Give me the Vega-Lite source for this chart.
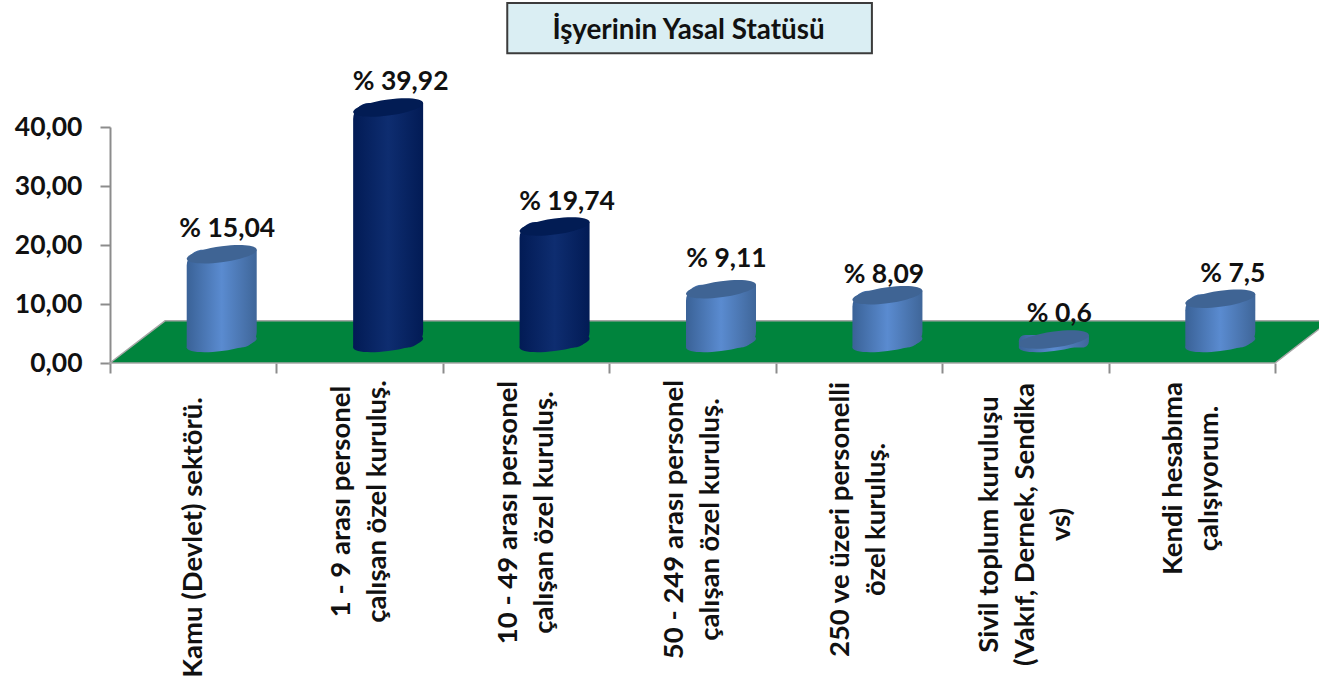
{
"$schema":"https://vega.github.io/schema/vega-lite/v6.json",
"width":1165,"height":236,
"autosize":"none",
"padding":{"left":110,"top":127,"right":44,"bottom":316},
"background":"white",
"view":{"stroke":null},
"title":{"text":"İşyerinin Yasal Statüsü","anchor":"middle","frame":"group","offset":-43,"dx":-4,"font":"Lato","fontSize":27.8,"fontWeight":"bold","color":"#111111"},
"datasets":{
"bars":[
{"kategori":"Kamu (Devlet) sektörü.","deger":15.04,"etiket":"% 15,04","koyu":false},
{"kategori":"1 - 9 arası personel|çalışan özel kuruluş.","deger":39.92,"etiket":"% 39,92","koyu":true},
{"kategori":"10 - 49 arası personel|çalışan özel kuruluş.","deger":19.74,"etiket":"% 19,74","koyu":true},
{"kategori":"50 - 249 arası personel|çalışan özel kuruluş.","deger":9.11,"etiket":"% 9,11","koyu":false},
{"kategori":"250 ve üzeri personelli|özel kuruluş.","deger":8.09,"etiket":"% 8,09","koyu":false},
{"kategori":"Sivil toplum kuruluşu|(Vakıf, Dernek, Sendika|vs)","deger":0.6,"etiket":"% 0,6","koyu":false},
{"kategori":"Kendi hesabıma|çalışıyorum.","deger":7.5,"etiket":"% 7,5","koyu":false}
],
"zemin":[{"yy":0,"a":0,"b":1},{"yy":7.15,"a":0.0472,"b":1.047}],
"kutu":[{"a":0.341,"b":0.654,"ust":61,"alt":52.5}]
},
"resolve":{"scale":{"x":"independent"}},
"layer":[
{"data":{"name":"zemin"},
 "mark":{"type":"area","orient":"horizontal","fill":"#00843d","stroke":"#a6a6a6","strokeWidth":1.5,"clip":false,"opacity":1},
 "encoding":{
  "y":{"field":"yy","type":"quantitative","scale":{"domain":[0,40],"nice":false},"axis":{"values":[0,10,20,30,40],"title":null,"grid":false,"domainColor":"#8c8c8c","domainWidth":2,"tickColor":"#8c8c8c","tickWidth":2,"tickSize":10,"labelPadding":18,"labelFont":"Lato","labelFontWeight":"bold","labelFontSize":26.5,"labelColor":"#111111","labelExpr":"replace(format(datum.value,'.2f'),'.',',')"}},
  "x":{"field":"a","type":"quantitative","scale":{"domain":[0,1],"nice":false,"zero":false},"axis":null},
  "x2":{"field":"b"}
 }},
{"data":{"name":"kutu"},
 "mark":{"type":"rect","fill":"#daeef3","stroke":"#3b3b3b","strokeWidth":2,"clip":false},
 "encoding":{
  "x":{"field":"a","type":"quantitative","scale":{"domain":[0,1],"nice":false,"zero":false},"axis":null},
  "x2":{"field":"b"},
  "y":{"field":"ust","type":"quantitative"},
  "y2":{"field":"alt"}
 }},
{"data":{"name":"bars"},
 "encoding":{
  "x":{"field":"kategori","type":"nominal","sort":null,"scale":{"type":"band","paddingInner":0,"paddingOuter":0},
   "axis":{"title":null,"domain":false,"tickBand":"extent","tickColor":"#8c8c8c","tickWidth":2,"tickSize":10,"labelAngle":-90,"labelAlign":"center","labelBaseline":"middle","labelLimit":500,"labelLineHeight":36,"labelFont":"Lato","labelFontWeight":"bold","labelFontSize":27.5,"labelColor":"#111111",
    "labelExpr":"split(datum.label,'|')",
    "labelOffset":{"expr":"-18*(length(split(datum.label,'|'))-1)"},
    "labelPadding":{"expr":"({'Ka':164,'1 ':128,'10':139,'50':146,'25':146,'Si':151,'Ke':105})[substring(datum.label,0,2)]||0"}}}
 },
 "layer":[
  {"mark":{"type":"point","filled":true,"opacity":1,"xOffset":28.5,"yOffset":-20,"size":4900,"shape":"M-1,0.13C-1,0.003 -0.552,-0.158 0,-0.23C0.552,-0.302 1,-0.257 1,-0.13C1,-0.003 0.552,0.158 0,0.23C-0.552,0.302 -1,0.257 -1,0.13Z"},
   "encoding":{"y":{"datum":0,"type":"quantitative"},
    "color":{"condition":{"test":"datum.koyu","value":{"gradient":"linear","x1":0,"x2":1,"y1":0,"y2":0,"stops":[{"offset":0,"color":"#021b55"},{"offset":0.5,"color":"#0e2d70"},{"offset":1,"color":"#021b55"}]}},"value":{"gradient":"linear","x1":0,"x2":1,"y1":0,"y2":0,"stops":[{"offset":0,"color":"#3a6297"},{"offset":0.5,"color":"#5a8bd0"},{"offset":1,"color":"#3f6699"}]}}}},
  {"mark":{"type":"bar","width":70,"xOffset":28.5,"yOffset":-24.5,"y2Offset":-15.5,"cornerRadiusTopLeft":16,"cornerRadiusBottomRight":16},
   "encoding":{"y":{"field":"deger","type":"quantitative","stack":null},"y2":{"datum":0},
    "color":{"condition":{"test":"datum.koyu","value":{"gradient":"linear","x1":0,"x2":1,"y1":0,"y2":0,"stops":[{"offset":0,"color":"#021b55"},{"offset":0.5,"color":"#0e2d70"},{"offset":1,"color":"#021b55"}]}},"value":{"gradient":"linear","x1":0,"x2":1,"y1":0,"y2":0,"stops":[{"offset":0,"color":"#3a6297"},{"offset":0.5,"color":"#5a8bd0"},{"offset":1,"color":"#3f6699"}]}}}},
  {"mark":{"type":"point","filled":true,"opacity":1,"xOffset":28.5,"yOffset":-20,"size":4900,"shape":"M-1,0.13C-1,0.003 -0.552,-0.158 0,-0.23C0.552,-0.302 1,-0.257 1,-0.13C1,-0.003 0.552,0.158 0,0.23C-0.552,0.302 -1,0.257 -1,0.13Z"},
   "encoding":{"y":{"field":"deger","type":"quantitative"},
    "color":{"condition":{"test":"datum.koyu","value":"#021c54"},"value":"#3f6494"}}},
  {"transform":[{"filter":"datum.deger==15.04||datum.deger==0.6"}],
   "mark":{"type":"text","font":"Lato","fontWeight":"bold","fontSize":26.5,"color":"#111111","xOffset":34,"yOffset":-45,"baseline":"middle"},
   "encoding":{"y":{"field":"deger","type":"quantitative"},"text":{"field":"etiket"}}},
  {"transform":[{"filter":"datum.deger==39.92||datum.deger==19.74||datum.deger==7.5"}],
   "mark":{"type":"text","font":"Lato","fontWeight":"bold","fontSize":26.5,"color":"#111111","xOffset":41,"yOffset":-45,"baseline":"middle"},
   "encoding":{"y":{"field":"deger","type":"quantitative"},"text":{"field":"etiket"}}},
  {"transform":[{"filter":"datum.deger==9.11"}],
   "mark":{"type":"text","font":"Lato","fontWeight":"bold","fontSize":26.5,"color":"#111111","xOffset":34,"yOffset":-50,"baseline":"middle"},
   "encoding":{"y":{"field":"deger","type":"quantitative"},"text":{"field":"etiket"}}},
  {"transform":[{"filter":"datum.deger==8.09"}],
   "mark":{"type":"text","font":"Lato","fontWeight":"bold","fontSize":26.5,"color":"#111111","xOffset":25,"yOffset":-40,"baseline":"middle"},
   "encoding":{"y":{"field":"deger","type":"quantitative"},"text":{"field":"etiket"}}}
 ]}
]
}
